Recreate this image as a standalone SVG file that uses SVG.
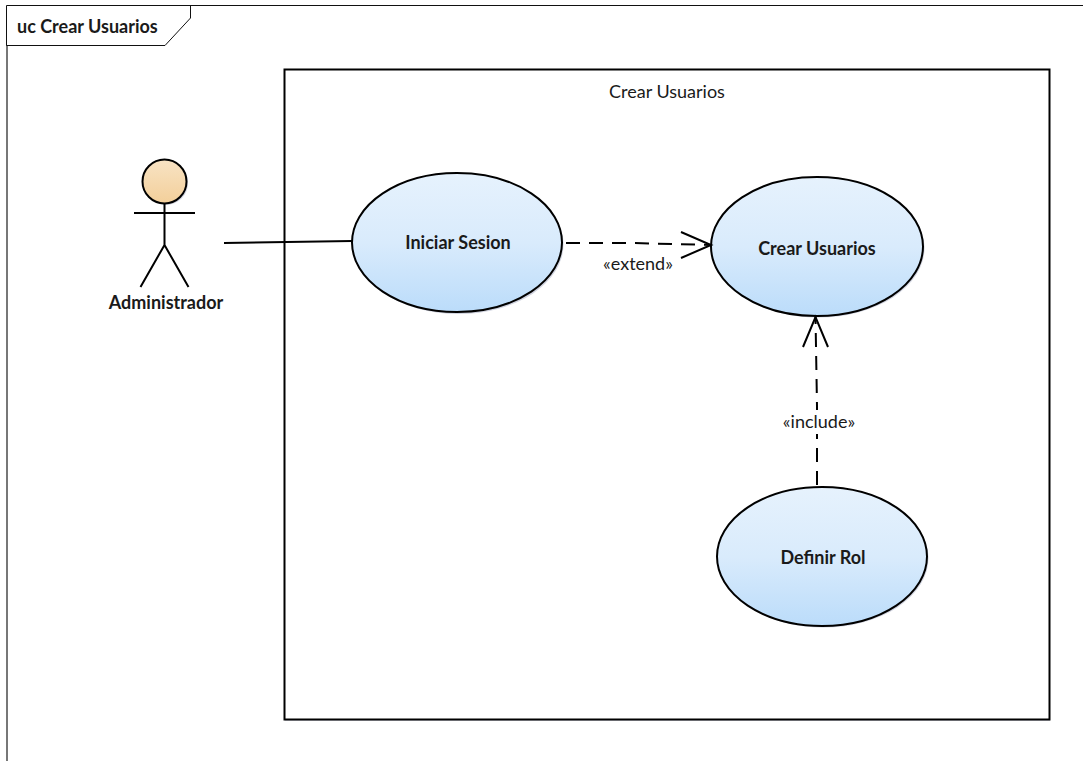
<svg xmlns="http://www.w3.org/2000/svg" width="1083" height="761" viewBox="0 0 1083 761">
<style>
.ln{fill:none;stroke:#000;stroke-width:2}
.uc{fill:url(#ucg);stroke:#000;stroke-width:2}
.sh{fill:#a9afc4;opacity:.55}
text{font-family:"Lato","Liberation Sans",sans-serif;fill:#1a1a1a}
.b{font-weight:700;font-size:18px;text-anchor:middle}
.r{font-size:18px;text-anchor:middle}
.d{fill:none;stroke:#000;stroke-width:2;stroke-dasharray:14 9}
</style>
<defs>
<linearGradient id="ucg" x1="0" y1="0" x2="0" y2="1"><stop offset="0" stop-color="#e6f2fd"/><stop offset=".5" stop-color="#d9ebfc"/><stop offset="1" stop-color="#bbdcfa"/></linearGradient>
<linearGradient id="ag" x1="0" y1="0" x2="0" y2="1"><stop offset="0" stop-color="#f8e3c4"/><stop offset="1" stop-color="#f3cf9a"/></linearGradient>
</defs>
<rect width="1083" height="761" fill="#fff"/>
<g id="frame">
<path d="M7 761V45" fill="none" stroke="#777" stroke-width="2"/>
<path d="M6.500 45.500V5.500H1083" fill="none" stroke="#111" stroke-width="1"/>
<path d="M6.500 45.500H165L190.500 18V5.500" fill="none" stroke="#111" stroke-width="1"/>
<text x="17" y="33" style="font-weight:700;font-size:18px">uc Crear Usuarios</text>
</g>
<g id="boundary">
<rect x="285" y="70" width="765" height="651" fill="#a9afc4" opacity=".5"/>
<rect x="284.500" y="69.500" width="765" height="650" fill="#fff" stroke="#000" stroke-width="2"/>
<text x="667" y="98" class="r">Crear Usuarios</text>
</g>
<g id="actor-administrador">
<circle cx="166" cy="183" r="22" class="sh"/>
<circle cx="164.500" cy="181.500" r="22" fill="url(#ag)" stroke="#000" stroke-width="2"/>
<path class="ln" d="M164.500 204V245M134 213H195M164.500 245L140.500 287M164.500 245L188.500 287"/>
<text x="166" y="309" class="b">Administrador</text>
</g>
<g id="uc-iniciar-sesion">
<ellipse cx="458.500" cy="244.500" rx="105" ry="69.500" class="sh"/>
<ellipse cx="457" cy="242.500" rx="105" ry="69.500" class="uc"/>
<text x="458" y="249" class="b">Iniciar Sesion</text>
</g>
<g id="uc-crear-usuarios">
<ellipse cx="818.500" cy="248" rx="106" ry="69.500" class="sh"/>
<ellipse cx="817" cy="246.500" rx="106" ry="69.500" class="uc"/>
<text x="817" y="255" class="b">Crear Usuarios</text>
</g>
<g id="uc-definir-rol">
<ellipse cx="823.500" cy="558" rx="105" ry="69.500" class="sh"/>
<ellipse cx="822" cy="556.500" rx="105" ry="69.500" class="uc"/>
<text x="823" y="564" class="b">Definir Rol</text>
</g>
<g id="connectors">
<path class="ln" d="M224 243L352 241"/>
<path class="d" d="M566 243H632L711 245"/>
<path class="ln" d="M681 232L711 245L681 258"/>
<path class="d" d="M817 485V406L815.500 317"/>
<path class="ln" d="M803 347L815.500 317L828 347"/>
<rect x="778" y="410" width="80" height="24" fill="#fff"/>
<text x="638" y="270" class="r">«extend»</text>
<text x="819" y="428" class="r">«include»</text>
</g>
</svg>
